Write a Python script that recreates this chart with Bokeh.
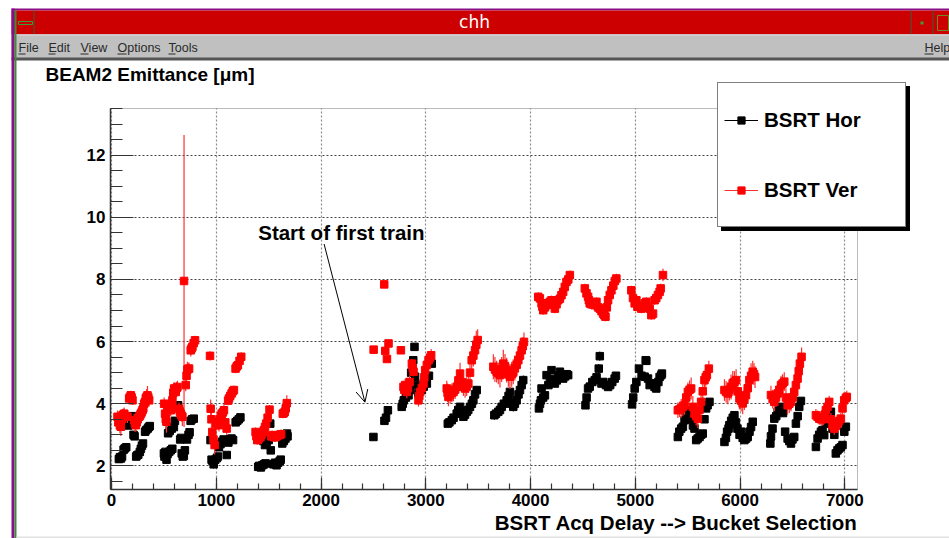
import numpy as np
from bokeh.plotting import figure
from bokeh.models import (ColumnDataSource, Range1d, SingleIntervalTicker, Label, Arrow,
                          OpenHead, Legend, LegendItem, BoxAnnotation)
from bokeh.embed import file_html
from bokeh.resources import INLINE

# ---------------- data ----------------
x_hor = [70, 80, 90, 100, 115, 125, 140, 160, 170, 185, 195, 210, 220, 235, 245, 255, 270, 280, 290, 300, 320, 330, 345, 355, 365,
         500, 505, 515, 525, 535, 550, 565, 580, 540, 555, 575, 595, 605, 620, 635, 670, 680, 690, 700, 655, 665, 720, 735, 745, 755, 770, 785,
         945, 955, 965, 975, 990, 1005, 1015, 1025, 1040, 1055, 1070, 1085, 1100, 1115, 1130, 1145, 1160, 1185, 1200, 1215, 1230,
         1400, 1410, 1425, 1440, 1455, 1470, 1435, 1450, 1465, 1480, 1500, 1515, 1520, 1545, 1560, 1575, 1590, 1605, 1615, 1630, 1645, 1660, 1675, 1680,
         2500, 2605, 2620, 2638,
         2770, 2780, 2790, 2810, 2835, 2850, 2860, 2880, 2892, 2898, 2910, 2930, 2945, 2962, 2980, 3010, 3030, 3057,
         3210, 3225, 3248, 3265, 3295, 3310, 3327, 3345, 3359, 3375, 3391, 3405, 3422, 3440, 3454, 3470, 3486,
         3654, 3670, 3692, 3708, 3724, 3745, 3772, 3790, 3803, 3820, 3835, 3850, 3867, 3885, 3899, 3915, 3930,
         4080, 4090, 4099, 4105, 4120, 4137, 4153, 4170, 4185, 4200, 4215, 4232, 4250, 4265, 4280, 4295, 4311, 4330, 4345, 4359,
         4524, 4535, 4549, 4565, 4590, 4613, 4630, 4651, 4661, 4677, 4695, 4720, 4740, 4760, 4780, 4803, 4815,
         4969, 4980, 4994, 5010, 5035, 5060, 5089, 5099, 5105, 5121, 5137, 5150, 5168, 5184, 5200, 5220, 5232, 5248, 5254,
         5406, 5420, 5438, 5454, 5470, 5485, 5500, 5517, 5535, 5550, 5565, 5581, 5595, 5613, 5628, 5644, 5660, 5676, 5690, 5708,
         5851, 5865, 5876, 5890, 5898, 5915, 5930, 5946, 5960, 5975, 5995, 6010, 6025, 6041, 6058, 6073, 6090, 6105, 6121,
         6289, 6295, 6310, 6327, 6345, 6359, 6375, 6391, 6410, 6430, 6454, 6470, 6486, 6500, 6517, 6533, 6550, 6565, 6581,
         6724, 6740, 6755, 6772, 6787, 6803, 6819, 6835, 6850, 6867, 6883, 6900, 6914, 6930, 6946, 6962, 6978, 6995, 7010]
y_hor = [2.22, 2.28, 2.24, 2.30, 2.52, 2.56, 2.60, 3.30, 3.36, 3.55, 3.60, 3.00, 2.95, 2.30, 2.34, 2.36, 2.45, 2.55, 2.65, 2.72, 3.10, 3.15, 3.20, 3.25, 3.28,
         2.40, 2.30, 2.45, 2.20, 2.38, 2.45, 2.50, 2.55, 3.05, 3.12, 3.20, 3.25, 3.45, 3.90, 3.95, 2.40, 2.30, 2.32, 2.50, 2.85, 2.90, 2.85, 3.00, 3.08, 3.45, 3.50, 3.52,
         2.83, 2.20, 2.15, 2.05, 2.20, 2.25, 2.30, 2.60, 2.70, 2.78, 2.85, 2.80, 2.35, 2.75, 2.85, 2.88, 2.83, 3.40, 3.45, 3.50, 3.56,
         1.97, 2.00, 1.95, 2.02, 2.05, 2.08, 2.93, 2.80, 2.67, 2.75, 2.83, 3.36, 2.50, 2.05, 2.10, 2.02, 2.10, 2.15, 2.20, 2.72, 2.80, 2.88, 3.04, 2.95,
         2.93, 3.45, 3.55, 3.79,
         3.90, 4.00, 4.11, 4.20, 4.27, 4.44, 5.00, 5.40, 5.83, 4.87, 4.60, 4.33, 4.50, 4.44, 4.55, 4.65, 4.90, 5.29,
         3.36, 3.40, 3.47, 3.55, 3.68, 3.80, 3.90, 3.75, 3.58, 3.65, 3.74, 3.80, 3.90, 4.00, 4.11, 4.30, 4.44,
         3.63, 3.68, 3.74, 3.80, 3.90, 4.00, 4.11, 4.25, 4.38, 4.00, 3.90, 4.00, 4.11, 4.30, 4.44, 4.60, 4.76,
         3.85, 4.00, 4.11, 4.49, 4.20, 4.27, 4.92, 4.60, 4.70, 5.08, 4.80, 4.65, 4.75, 4.90, 5.03, 4.85, 4.81, 4.88, 4.95, 4.92,
         3.95, 4.20, 4.49, 4.55, 4.70, 4.76, 4.85, 5.13, 5.53, 4.65, 4.70, 4.60, 4.54, 4.60, 4.70, 4.81, 4.90,
         3.98, 4.20, 4.49, 4.70, 5.13, 4.90, 4.87, 5.40, 5.38, 4.81, 4.60, 4.65, 4.65, 4.54, 4.49, 4.70, 4.86, 4.92, 4.97,
         2.93, 3.10, 3.20, 3.26, 3.47, 3.60, 3.70, 3.79, 3.50, 3.30, 3.20, 2.83, 2.88, 2.93, 3.00, 3.04, 3.50, 3.85, 3.95, 4.06,
         2.77, 2.90, 3.10, 3.20, 3.31, 3.45, 3.55, 3.63, 3.40, 3.20, 3.00, 3.10, 2.90, 2.83, 2.88, 2.93, 3.10, 3.25, 3.42,
         2.72, 2.95, 3.20, 3.52, 3.60, 3.74, 3.80, 3.90, 3.70, 3.10, 2.88, 2.80, 2.72, 2.85, 2.93, 3.36, 3.60, 3.90, 4.09,
         2.61, 2.88, 3.00, 3.10, 3.15, 2.99, 3.36, 3.50, 3.60, 3.74, 3.20, 3.00, 2.40, 2.50, 2.56, 2.60, 2.67, 3.10, 3.26]
e_hor = [0.08, 0.08, 0.08, 0.08, 0.08, 0.08, 0.08, 0.10, 0.10, 0.10, 0.10, 0.08, 0.08, 0.08, 0.08, 0.08, 0.08, 0.08, 0.08, 0.08, 0.08, 0.08, 0.08, 0.08, 0.08,
         0.10, 0.12, 0.10, 0.12, 0.10, 0.10, 0.10, 0.10, 0.08, 0.08, 0.08, 0.08, 0.08, 0.10, 0.10, 0.10, 0.10, 0.10, 0.10, 0.08, 0.08, 0.08, 0.08, 0.08, 0.08, 0.08, 0.08,
         0.08, 0.12, 0.12, 0.14, 0.10, 0.10, 0.10, 0.08, 0.08, 0.08, 0.08, 0.08, 0.08, 0.08, 0.08, 0.08, 0.08, 0.08, 0.08, 0.08, 0.08,
         0.10, 0.10, 0.12, 0.10, 0.10, 0.10, 0.08, 0.08, 0.08, 0.08, 0.08, 0.08, 0.08, 0.10, 0.10, 0.10, 0.10, 0.10, 0.10, 0.08, 0.08, 0.08, 0.08, 0.08,
         0.05, 0.06, 0.06, 0.06,
         0.10, 0.10, 0.10, 0.10, 0.10, 0.10, 0.10, 0.10, 0.08, 0.10, 0.10, 0.10, 0.10, 0.10, 0.10, 0.10, 0.10, 0.10,
         0.12, 0.12, 0.12, 0.12, 0.12, 0.12, 0.12, 0.12, 0.12, 0.12, 0.12, 0.12, 0.12, 0.12, 0.12, 0.12, 0.12,
         0.15, 0.15, 0.20, 0.15, 0.15, 0.15, 0.15, 0.15, 0.15, 0.15, 0.15, 0.15, 0.15, 0.15, 0.15, 0.15, 0.15,
         0.10, 0.10, 0.10, 0.10, 0.10, 0.10, 0.10, 0.10, 0.10, 0.10, 0.10, 0.10, 0.10, 0.10, 0.10, 0.10, 0.10, 0.10, 0.10, 0.10,
         0.10, 0.10, 0.10, 0.12, 0.12, 0.12, 0.12, 0.15, 0.15, 0.12, 0.12, 0.12, 0.12, 0.12, 0.12, 0.12, 0.12,
         0.10, 0.10, 0.10, 0.10, 0.10, 0.10, 0.10, 0.10, 0.10, 0.10, 0.10, 0.10, 0.10, 0.10, 0.10, 0.10, 0.10, 0.10, 0.10,
         0.10, 0.10, 0.10, 0.10, 0.10, 0.10, 0.10, 0.10, 0.10, 0.10, 0.10, 0.10, 0.10, 0.10, 0.10, 0.10, 0.10, 0.10, 0.10, 0.10,
         0.10, 0.10, 0.10, 0.10, 0.10, 0.10, 0.10, 0.10, 0.10, 0.10, 0.10, 0.10, 0.10, 0.10, 0.10, 0.10, 0.10, 0.10, 0.10,
         0.10, 0.10, 0.10, 0.10, 0.10, 0.10, 0.10, 0.10, 0.10, 0.10, 0.10, 0.10, 0.10, 0.10, 0.10, 0.10, 0.10, 0.10, 0.10,
         0.10, 0.10, 0.10, 0.10, 0.10, 0.10, 0.10, 0.10, 0.10, 0.10, 0.10, 0.10, 0.10, 0.10, 0.10, 0.10, 0.10, 0.10, 0.10]

x_ver = [57, 65, 73, 80, 89, 97, 105, 113, 121, 135, 152, 168, 176, 184, 192, 200, 216, 224, 232, 240, 250, 264, 272, 279, 287, 295, 303, 311, 319, 327, 335, 343, 351, 359,
         502, 511, 518, 524, 533, 543, 550, 558, 565, 573, 581, 589, 597, 605, 613, 621, 629, 644, 652, 660, 668, 676, 692, 708, 716, 724, 732, 740, 756, 764, 772, 784, 797,
         940, 946, 954, 962, 973, 984, 1000, 1010, 1018, 1026, 1035, 1043, 1051, 1062, 1073, 1086, 1099, 1113, 1121, 1133, 1146, 1157, 1168, 1184, 1195, 1206, 1222, 1238,
         1375, 1383, 1391, 1400, 1410, 1422, 1432, 1443, 1454, 1465, 1476, 1490, 1508, 1525, 1533, 1545, 1555, 1565, 1575, 1585, 1597, 1608, 1619, 1635, 1645, 1654, 1663, 1673,
         2502, 2603, 2613, 2629, 2644, 2762,
         2787, 2795, 2803, 2811, 2819, 2830, 2845, 2867, 2875, 2883, 2930, 2938, 2946, 2962, 2978, 2986, 2994, 3010, 3026, 3040, 3051,
         3200, 3208, 3216, 3232, 3248, 3264, 3280, 3295, 3311, 3327, 3343, 3359, 3375, 3390, 3406, 3422, 3438, 3454, 3470, 3482, 3495,
         3645, 3660, 3676, 3692, 3708, 3724, 3740, 3756, 3772, 3788, 3803, 3820, 3835, 3850, 3867, 3883, 3899, 3915, 3926, 3937,
         4073, 4089, 4105, 4113, 4121, 4137, 4153, 4168, 4184, 4200, 4216, 4232, 4248, 4264, 4280, 4295, 4311, 4327, 4343, 4360, 4375,
         4518, 4534, 4549, 4557, 4565, 4581, 4597, 4613, 4629, 4645, 4661, 4677, 4692, 4704, 4715, 4728, 4740, 4756, 4772, 4790, 4805, 4819,
         4962, 4978, 4994, 5010, 5020, 5042, 5057, 5073, 5089, 5105, 5121, 5137, 5153, 5169, 5184, 5200, 5216, 5232, 5242, 5264,
         5406, 5422, 5438, 5454, 5470, 5486, 5502, 5518, 5533, 5549, 5565, 5581, 5597, 5612, 5628, 5644, 5660, 5672, 5683, 5702,
         5851, 5867, 5883, 5898, 5914, 5930, 5946, 5962, 5978, 5994, 6010, 6025, 6041, 6057, 6073, 6089, 6105, 6121, 6133, 6143,
         6295, 6311, 6327, 6343, 6359, 6375, 6391, 6406, 6422, 6438, 6454, 6470, 6486, 6502, 6517, 6533, 6549, 6560, 6571, 6587,
         6724, 6740, 6756, 6772, 6787, 6797, 6808, 6819, 6835, 6851, 6867, 6883, 6899, 6915, 6930, 6946, 6962, 6978, 6994, 7010, 7019]
y_ver = [3.58, 3.40, 3.42, 3.30, 3.26, 3.50, 3.63, 3.65, 3.68, 3.60, 3.58, 4.17, 4.22, 4.27, 4.20, 4.11, 3.47, 3.35, 3.31, 3.40, 3.50, 3.58, 3.62, 3.68, 3.72, 3.79, 3.85, 4.00, 4.05, 4.17, 4.22, 4.27, 4.20, 4.11,
         4.00, 3.68, 3.50, 3.42, 3.80, 3.90, 3.85, 3.82, 3.79, 3.95, 4.11, 4.35, 4.49, 4.45, 4.38, 4.50, 4.54, 3.84, 3.75, 3.68, 3.62, 3.58, 7.95, 4.60, 4.90, 5.10, 5.12, 5.13, 5.72, 5.78, 5.83, 5.95, 6.04,
         5.54, 3.84, 3.50, 3.09, 2.85, 2.67, 3.36, 3.40, 3.35, 3.31, 3.50, 3.60, 3.68, 3.72, 3.79, 3.40, 3.20, 4.10, 4.17, 4.25, 4.33, 4.40, 4.44, 5.13, 5.20, 5.24, 5.38, 5.51,
         3.09, 2.95, 2.83, 2.85, 2.90, 2.93, 3.00, 3.08, 3.15, 3.25, 3.36, 3.55, 3.81, 2.95, 2.99, 2.95, 2.92, 2.93, 2.95, 2.98, 2.99, 3.00, 3.02, 3.68, 3.70, 3.74, 3.85, 4.02,
         5.74, 7.84, 5.70, 5.44, 5.94, 5.72,
         4.54, 4.45, 4.60, 4.50, 4.38, 4.50, 4.70, 5.29, 5.15, 5.03, 4.11, 4.25, 4.38, 4.50, 4.65, 4.85, 5.08, 5.25, 5.40, 5.48, 5.56,
         4.49, 4.35, 4.22, 4.30, 4.35, 4.38, 4.45, 4.54, 4.75, 4.97, 4.70, 4.55, 4.49, 4.55, 4.65, 5.00, 5.40, 5.55, 5.72, 5.90, 6.05,
         5.19, 5.10, 5.03, 4.98, 4.92, 5.10, 5.29, 5.20, 5.08, 4.95, 4.87, 4.95, 5.03, 5.15, 5.25, 5.40, 5.55, 5.72, 5.85, 5.99,
         7.44, 7.39, 7.23, 7.12, 7.01, 7.10, 7.17, 7.23, 7.28, 7.33, 7.20, 7.06, 7.20, 7.33, 7.38, 7.49, 7.60, 7.76, 7.92, 8.00, 8.14,
         7.71, 7.55, 7.44, 7.33, 7.23, 7.20, 7.20, 7.17, 7.28, 7.10, 7.06, 6.98, 6.90, 6.85, 6.80, 7.10, 7.33, 7.50, 7.65, 7.80, 7.95, 8.03,
         7.65, 7.40, 7.23, 7.33, 7.12, 7.12, 7.06, 7.15, 7.23, 7.28, 7.10, 7.06, 6.85, 6.90, 7.33, 7.40, 7.50, 7.60, 7.71, 8.14,
         3.79, 3.82, 3.85, 3.90, 3.95, 4.20, 4.38, 4.45, 4.49, 3.90, 3.68, 3.60, 3.52, 3.80, 4.06, 4.40, 4.76, 4.85, 4.92, 5.13,
         4.44, 4.38, 4.33, 4.45, 4.54, 4.65, 4.70, 4.76, 4.40, 4.17, 4.10, 4.01, 4.15, 4.28, 4.50, 4.76, 4.90, 5.03, 4.95, 4.86,
         4.28, 4.15, 4.06, 4.20, 4.33, 4.45, 4.60, 4.65, 4.71, 4.20, 3.95, 4.00, 4.06, 4.20, 4.38, 4.60, 4.81, 5.05, 5.29, 5.51,
         3.63, 3.58, 3.52, 3.50, 3.50, 3.52, 3.65, 3.79, 3.90, 4.06, 3.50, 3.30, 3.20, 3.28, 3.36, 3.45, 3.52, 3.85, 4.11, 4.18, 4.22]
e_ver = [0.20, 0.25, 0.20, 0.25, 0.30, 0.20, 0.20, 0.20, 0.20, 0.20, 0.20, 0.15, 0.15, 0.15, 0.15, 0.15, 0.20, 0.25, 0.20, 0.20, 0.20, 0.20, 0.20, 0.20, 0.20, 0.20, 0.20, 0.20, 0.20, 0.25, 0.25, 0.30, 0.20, 0.20,
         0.20, 0.30, 0.30, 0.35, 0.25, 0.25, 0.25, 0.20, 0.20, 0.20, 0.20, 0.20, 0.20, 0.20, 0.20, 0.20, 0.20, 0.20, 0.20, 0.20, 0.20, 0.30, 4.70, 0.20, 0.20, 0.25, 0.20, 0.20, 0.20, 0.20, 0.20, 0.15, 0.15,
         0.15, 0.30, 0.30, 0.25, 0.30, 0.30, 0.20, 0.20, 0.20, 0.20, 0.20, 0.20, 0.20, 0.20, 0.20, 0.20, 0.20, 0.15, 0.15, 0.15, 0.15, 0.15, 0.15, 0.15, 0.15, 0.15, 0.15, 0.15,
         0.15, 0.15, 0.15, 0.15, 0.15, 0.15, 0.15, 0.15, 0.15, 0.15, 0.15, 0.15, 0.15, 0.15, 0.15, 0.15, 0.15, 0.15, 0.15, 0.15, 0.15, 0.15, 0.15, 0.15, 0.15, 0.15, 0.20, 0.25,
         0.10, 0.12, 0.10, 0.10, 0.10, 0.10,
         0.20, 0.20, 0.20, 0.20, 0.20, 0.20, 0.20, 0.15, 0.15, 0.15, 0.20, 0.20, 0.20, 0.20, 0.20, 0.20, 0.20, 0.20, 0.20, 0.20, 0.20,
         0.25, 0.30, 0.30, 0.30, 0.30, 0.30, 0.30, 0.30, 0.30, 0.35, 0.30, 0.30, 0.30, 0.30, 0.30, 0.30, 0.35, 0.35, 0.40, 0.45, 0.35,
         0.40, 0.40, 0.35, 0.35, 0.40, 0.40, 0.45, 0.40, 0.40, 0.40, 0.40, 0.40, 0.40, 0.40, 0.40, 0.40, 0.35, 0.35, 0.30, 0.30,
         0.15, 0.15, 0.15, 0.15, 0.15, 0.15, 0.15, 0.15, 0.15, 0.15, 0.15, 0.15, 0.15, 0.15, 0.15, 0.15, 0.15, 0.15, 0.15, 0.15, 0.15,
         0.15, 0.15, 0.15, 0.15, 0.15, 0.15, 0.15, 0.15, 0.15, 0.15, 0.15, 0.15, 0.15, 0.15, 0.15, 0.15, 0.15, 0.15, 0.15, 0.15, 0.15, 0.15,
         0.15, 0.15, 0.15, 0.15, 0.15, 0.15, 0.15, 0.15, 0.15, 0.15, 0.15, 0.15, 0.15, 0.15, 0.15, 0.15, 0.15, 0.15, 0.15, 0.20,
         0.25, 0.25, 0.30, 0.30, 0.30, 0.30, 0.30, 0.30, 0.35, 0.35, 0.30, 0.30, 0.30, 0.30, 0.30, 0.30, 0.30, 0.30, 0.30, 0.25,
         0.35, 0.35, 0.35, 0.35, 0.40, 0.40, 0.35, 0.35, 0.35, 0.35, 0.35, 0.35, 0.35, 0.35, 0.35, 0.40, 0.40, 0.35, 0.35, 0.35,
         0.30, 0.30, 0.30, 0.30, 0.30, 0.30, 0.30, 0.30, 0.30, 0.30, 0.30, 0.30, 0.30, 0.30, 0.30, 0.35, 0.35, 0.35, 0.35, 0.30,
         0.20, 0.20, 0.20, 0.20, 0.20, 0.20, 0.20, 0.20, 0.20, 0.20, 0.20, 0.20, 0.20, 0.20, 0.20, 0.20, 0.20, 0.20, 0.20, 0.20, 0.20]

series_labels = ["BSRT Hor", "BSRT Ver"]
title_text = "BEAM2 Emittance [\u03bcm]"
xlabel_text = "BSRT Acq Delay --> Bucket Selection"
note_text = "Start of first train"
window_title = "chh"
menu_items = ["File", "Edit", "View", "Options", "Tools"]

# axis ranges of the drawn frame
X_LO, X_HI = -10, 7121
Y_LO, Y_HI = 1.24, 13.5

# ---------------- layout constants (pixels) ----------------
W, H = 949, 538
FL, FR, FT, FB = 110, 857, 108, 489      # frame box inside the window
FONT = "Liberation Sans"

kx = (X_HI - X_LO) / (FR - FL)
ky = (Y_HI - Y_LO) / (FB - FT)
xr = Range1d(X_LO - FL * kx, X_HI + (W - FR) * kx)
yr = Range1d(Y_LO - (H - FB) * ky, Y_HI + FT * ky)


def sx(X):
    return X


def sy(Y):
    return H - Y


p = figure(width=W, height=H, output_backend="svg", toolbar_location=None,
           x_range=xr, y_range=yr, min_border=0,
           background_fill_color="white", border_fill_color="white")
p.title.visible = False
p.outline_line_color = None

xt = SingleIntervalTicker(interval=1000, num_minor_ticks=5)
yt = SingleIntervalTicker(interval=2, num_minor_ticks=4)
p.xaxis.ticker = xt
p.yaxis.ticker = yt
p.xaxis.fixed_location = Y_LO
p.yaxis.fixed_location = X_LO
p.xaxis.bounds = (X_LO, X_HI)
p.yaxis.bounds = (Y_LO, Y_HI)

p.xgrid.ticker = xt
p.ygrid.ticker = yt
p.xgrid.bounds = (X_LO, X_HI)
p.xgrid.cross_bounds = (Y_LO, Y_HI)
p.ygrid.bounds = (Y_LO, Y_HI)
p.ygrid.cross_bounds = (X_LO, X_HI)
p.xgrid.grid_line_color = "#8c8c8c"
p.xgrid.grid_line_dash = "2 2"
p.xgrid.grid_line_width = 1.2
p.ygrid.grid_line_color = "#444444"
p.ygrid.grid_line_dash = "2 2"
p.ygrid.grid_line_width = 1

for ax in p.axis:
    ax.major_label_text_font = FONT
    ax.major_label_text_font_style = "bold"
    ax.major_label_text_font_size = "17px"
    ax.major_label_text_color = "black"
    ax.axis_line_color = "#333333"
    ax.axis_line_width = 1.5
    ax.major_tick_line_color = "#333333"
    ax.minor_tick_line_color = "#333333"
    ax.major_tick_line_width = 1.2
    ax.minor_tick_line_width = 1.2
    ax.major_tick_out = 0
    ax.minor_tick_out = 0
p.yaxis.major_tick_in = 23
p.yaxis.minor_tick_in = 12
p.yaxis.major_label_standoff = 5
p.xaxis.major_tick_in = 12
p.xaxis.minor_tick_in = 6
p.xaxis.major_label_standoff = 4

# frame box (top / right edges of the ROOT frame)
p.add_layout(BoxAnnotation(left=X_LO, right=X_HI, bottom=Y_LO, top=Y_HI, fill_alpha=0,
                           line_color="#222222", line_width=1, level="underlay"))

# ---------------- data glyphs ----------------
yh, eh = np.array(y_hor), np.array(e_hor)
yv, ev = np.array(y_ver), np.array(e_ver)
src_h = ColumnDataSource(dict(x=x_hor, y=y_hor, lo=yh - eh, hi=yh + eh))
src_v = ColumnDataSource(dict(x=x_ver, y=y_ver, lo=yv - ev, hi=yv + ev))

seg_h = p.segment(x0="x", y0="lo", x1="x", y1="hi", source=src_h, line_color="black", line_width=1)
sh = p.scatter("x", "y", source=src_h, marker="square", size=7.5, fill_color="black", line_color="black")
seg_v = p.segment(x0="x", y0="lo", x1="x", y1="hi", source=src_v, line_color="#ff3030", line_width=1.2)
sv = p.scatter("x", "y", source=src_v, marker="square", size=7.5, fill_color="#ff0000", line_color="#ff0000")


def add_legend(dx, dy, shadow):
    labels = [" ", " "] if shadow else series_labels
    items = [LegendItem(label=labels[0], renderers=[seg_h, sh]),
             LegendItem(label=labels[1], renderers=[seg_v, sv])]
    lg = Legend(items=items, location=(sx(717) + dx, sy(227) - dy), orientation="vertical",
                padding=6, spacing=9, margin=0, glyph_width=34, glyph_height=18,
                label_width=135, label_height=61, label_standoff=6,
                label_text_font=FONT, label_text_font_style="bold", label_text_font_size="20.5px",
                label_text_color="black",
                border_line_color="black", border_line_width=1,
                background_fill_color="black" if shadow else "white", background_fill_alpha=1)
    p.add_layout(lg, "center")


add_legend(4, 4, True)
add_legend(0, 0, False)

# ---------------- annotations ----------------
p.add_layout(Label(x=1400, y=9.52, text=note_text, text_font=FONT, text_font_style="bold",
                   text_font_size="20.5px", text_baseline="alphabetic", text_color="black"))
ARROW_FROM = (2029, 9.14)
ARROW_TO = (2419, 4.05)
p.add_layout(Arrow(end=OpenHead(size=12, line_width=1, line_color="black"),
                   x_start=ARROW_FROM[0], y_start=ARROW_FROM[1], x_end=ARROW_TO[0], y_end=ARROW_TO[1],
                   line_color="black", line_width=1))

p.add_layout(Label(x=sx(45), y=sy(74), x_units="screen", y_units="screen", text=title_text,
                   text_font=FONT, text_font_style="bold", text_font_size="19px",
                   text_baseline="alphabetic", text_color="black"))
p.add_layout(Label(x=sx(857), y=sy(522), x_units="screen", y_units="screen", text=xlabel_text,
                   text_font=FONT, text_font_style="bold", text_font_size="20.5px",
                   text_baseline="alphabetic", text_align="right", text_color="black"))

# ---------------- window chrome ----------------


def box(X0, Y0, X1, Y1, fill, line=None):
    p.add_layout(BoxAnnotation(left=sx(X0), right=sx(X1), top=sy(Y0), bottom=sy(Y1),
                               left_units="screen", right_units="screen",
                               top_units="screen", bottom_units="screen",
                               fill_color=fill if fill else "white", fill_alpha=1 if fill else 0,
                               line_color=line if line else "black", line_alpha=1 if line else 0,
                               line_width=1, level="overlay"))


def chrome_text(X, Y, txt, size, color, font=FONT, align="left"):
    p.add_layout(Label(x=sx(X), y=sy(Y), x_units="screen", y_units="screen", text=txt,
                       text_font=font, text_font_size=size, text_align=align,
                       text_baseline="alphabetic", text_color=color, level="overlay"))


box(11, 8, 949, 10, "#8a108a")          # purple top edge
box(11, 10, 949, 34, "#cc0000")         # title bar
box(33, 10, 34, 34, "#3d5e3d")          # left button separator
box(18, 21, 32, 24, None, "#3c9c3c")    # minimise icon
box(910, 10, 911, 34, "#3d5e3d")
box(932, 10, 933, 34, "#3d5e3d")
box(920, 21, 923, 24, "#3c9c3c")
box(937, 15, 948, 30, None, "#6b8e23")
box(11, 34, 949, 58, "#c0c0c0")         # menu bar
box(11, 34, 949, 35, "#dcdcdc")
box(11, 57, 949, 60, "#555555")
box(11, 8, 14, 538, "#8a108a")          # left purple border
box(14, 10, 16, 538, "#3c8c3c")         # left green border
box(16, 536, 949, 538, "#e0e0e0")

chrome_text(474, 21.5, window_title, "17px", "white", font="DejaVu Sans", align="center")

menu_x = [18, 48, 80, 117, 168]
menu_w = [7, 7, 8, 9, 7]
for mx, mw, mt in zip(menu_x, menu_w, menu_items):
    chrome_text(mx, 47, mt, "12.5px", "#2a2a2a")
    box(mx, 53, mx + mw, 54, "#2a2a2a")
chrome_text(924, 47, "Help", "12.5px", "#2a2a2a")
box(924, 53, 933, 54, "#2a2a2a")

open("out.html", "w").write(file_html(p, INLINE))
